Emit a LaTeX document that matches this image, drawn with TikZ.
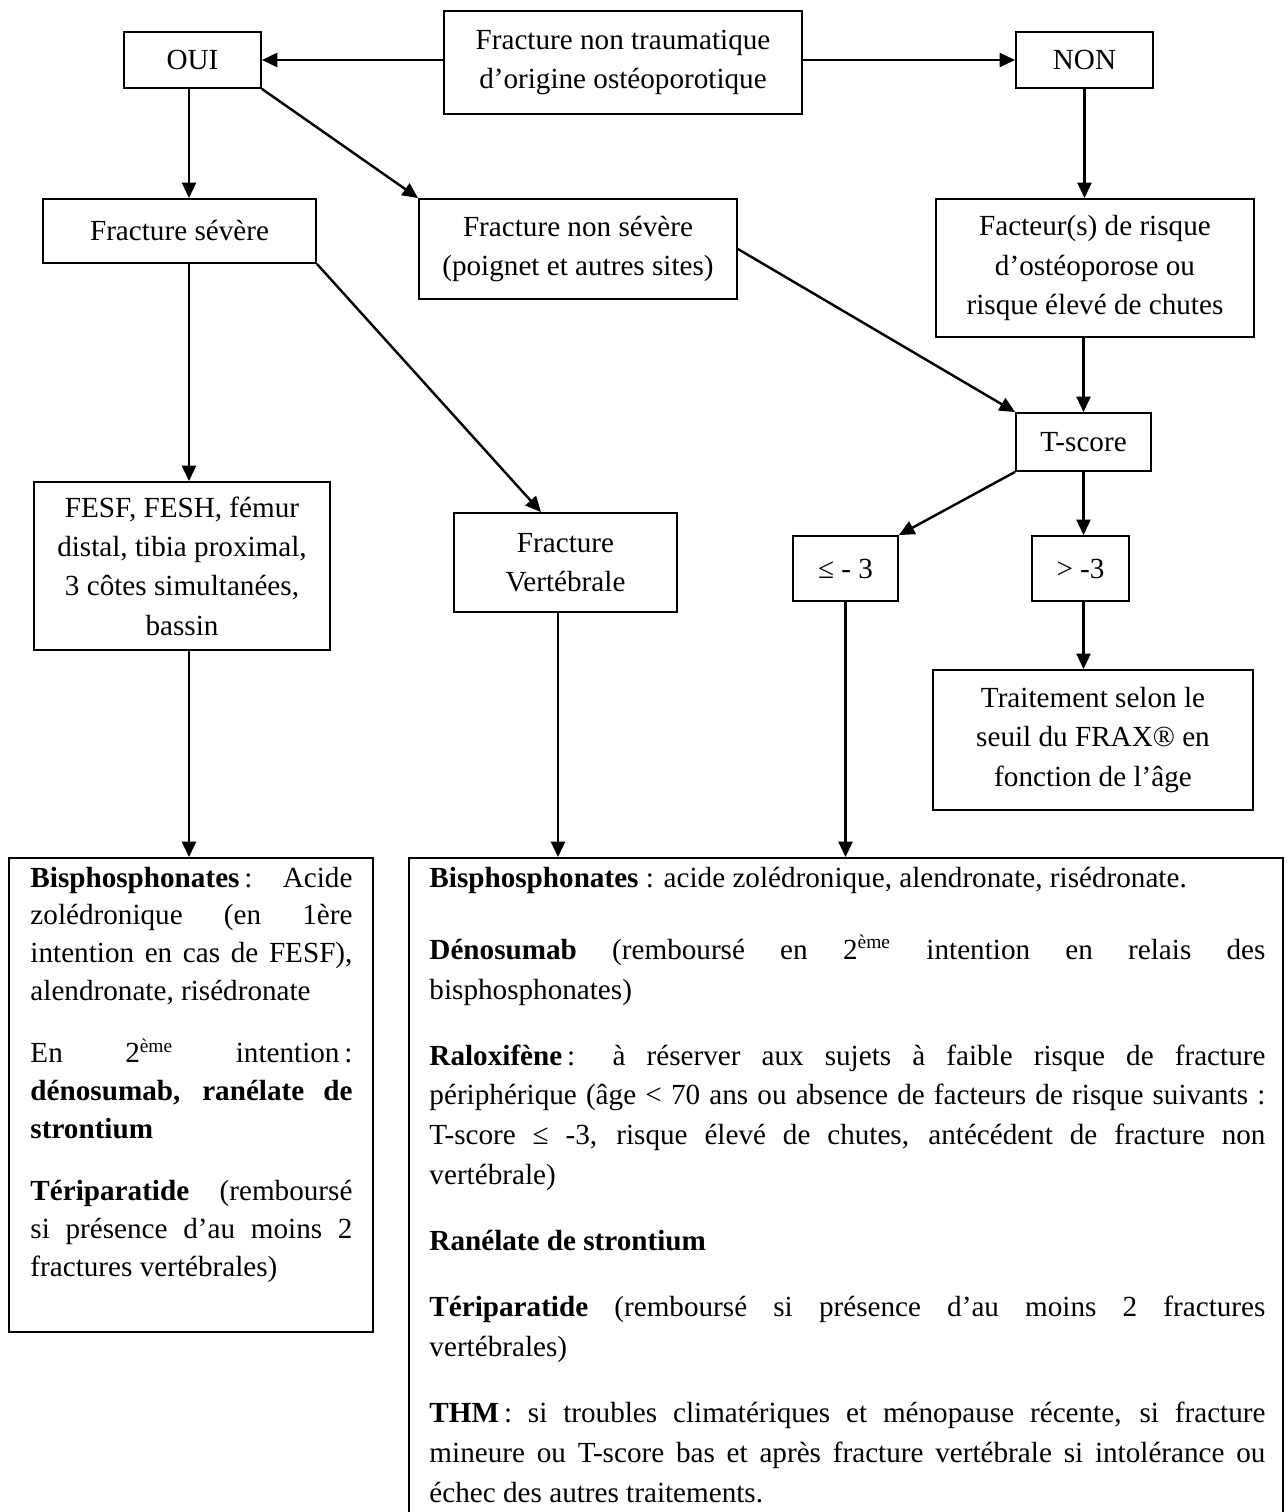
\documentclass[tikz,border=0pt]{standalone}
\usepackage{fontspec}
\setmainfont{Liberation Serif}
\usetikzlibrary{arrows.meta}
\begin{document}
\begin{tikzpicture}[x=0.4115pt,y=-0.4115pt,
  bx/.style={draw, line width=0.75pt, align=center, inner sep=0pt, font=\fontsize{12pt}{16.2pt}\selectfont},
  plainbox/.style={draw, line width=0.75pt, inner sep=0pt},
  sz/.style 2 args={minimum width=#1*0.4115pt, minimum height=#2*0.4115pt},
  arr/.style={-{Triangle[length=6.4pt,width=5.8pt]}, line width=1pt},
  para/.style={inner sep=0pt, anchor=base west, font=\fontsize{12pt}{16.2pt}\selectfont}]
\useasboundingbox (0,0) rectangle (1287,1512);
\clip (0,0) rectangle (1287,1512);

% boxes
\node[bx, sz={358}{103}] (top) at (623,62.5) {Fracture non traumatique\\d’origine ostéoporotique};
\node[bx, sz={137}{56}] (oui) at (192.5,60) {OUI};
\node[bx, sz={137}{56}] (non) at (1084.5,60) {NON};
\node[bx, sz={273}{64}] (sev) at (179.5,231) {Fracture sévère};
\node[bx, sz={318}{100}] (nsev) at (578,249) {Fracture non sévère\\(poignet et autres sites)};
\node[bx, sz={318}{138}] (fact) at (1095,268) {Facteur(s) de risque\\d’ostéoporose ou\\risque élevé de chutes};
\node[bx, sz={135}{58}] (tsc) at (1083.5,442) {T-score};
\node[bx, sz={296}{168}] (fesf) at (182,566) {FESF, FESH, fémur\\distal, tibia proximal,\\3 côtes simultanées,\\bassin};
\node[bx, sz={223}{99}] (vert) at (565.5,562.5) {Fracture\\Vertébrale};
\node[bx, sz={105}{65}] (le3) at (845.5,568.5) {≤ - 3};
\node[bx, sz={97}{65}] (gt3) at (1080.5,568.5) {> -3};
\node[bx, sz={320}{140}] (trait) at (1093,740) {Traitement selon le\\seuil du FRAX® en\\fonction de l’âge};
\node[plainbox, sz={364}{474}] (lbox) at (191,1095) {};
\node[plainbox, sz={874}{672}] (rbox) at (846,1194) {};

% texts of the bottom boxes
\node[para] (ltext) at (30,887) {\begin{minipage}[t]{132.5pt}\fontsize{12pt}{15.6pt}\selectfont\setlength{\parskip}{10pt}\tolerance=10000\hbadness=10000
\textbf{Bisphosphonates}\,: Acide\linebreak zolédronique (en 1ère\linebreak intention en cas de FESF),\linebreak alendronate, risédronate\par
En 2\textsuperscript{ème} intention\,:\linebreak \textbf{dénosumab, ranélate de\linebreak strontium}\par
\textbf{Tériparatide} (remboursé\linebreak si présence d’au moins 2\linebreak fractures vertébrales)
\end{minipage}};
\node[para] (rtext) at (429,887) {\begin{minipage}[t]{344pt}\fontsize{12pt}{16.3pt}\selectfont\setlength{\parskip}{11pt}\tolerance=10000\hbadness=10000
\textbf{Bisphosphonates} : acide zolédronique, alendronate, risédronate.\par\vspace{2.5pt}
\textbf{Dénosumab} (remboursé en 2\textsuperscript{ème} intention en relais des\linebreak bisphosphonates)\par
\textbf{Raloxifène}\,: à réserver aux sujets à faible risque de fracture\linebreak périphérique (âge < 70 ans ou absence de facteurs de risque suivants :\linebreak T-score ≤ -3, risque élevé de chutes, antécédent de fracture non\linebreak vertébrale)\par
\textbf{Ranélate de strontium}\par
\textbf{Tériparatide} (remboursé si présence d’au moins 2 fractures\linebreak vertébrales)\par
\textbf{THM}\,: si troubles climatériques et ménopause récente, si fracture\linebreak mineure ou T-score bas et après fracture vertébrale si intolérance ou\linebreak échec des autres traitements.
\end{minipage}};

% column coordinates
\coordinate (cA) at (189,0);
\coordinate (cV) at (541,0);
\coordinate (cB) at (558,0);

% connectors
\draw[arr] (top.west |- oui.east) -- (oui.east);
\draw[arr] (top.east |- non.west) -- (non.west);
\draw[arr] (oui.south -| cA) -- (sev.north -| cA);
\draw[arr] (oui.south east) -- (nsev.north west);
\draw[arr] (non.south) -- (fact.north -| non.south);
\draw[arr] (sev.south -| cA) -- (fesf.north -| cA);
\draw[arr] (sev.south east) -- (vert.north -| cV);
\draw[arr] (nsev.east) -- (tsc.north west);
\draw[arr] (fact.south -| tsc.north) -- (tsc.north);
\draw[arr] (tsc.south west) -- (le3.north east);
\draw[arr] (tsc.south) -- (gt3.north -| tsc.south);
\draw[arr] (gt3.south -| tsc.south) -- (trait.north -| tsc.south);
\draw[arr] (fesf.south -| cA) -- (lbox.north -| cA);
\draw[arr] (vert.south -| cB) -- (rbox.north -| cB);
\draw[arr] (le3.south) -- (rbox.north -| le3.south);
\end{tikzpicture}
\end{document}
